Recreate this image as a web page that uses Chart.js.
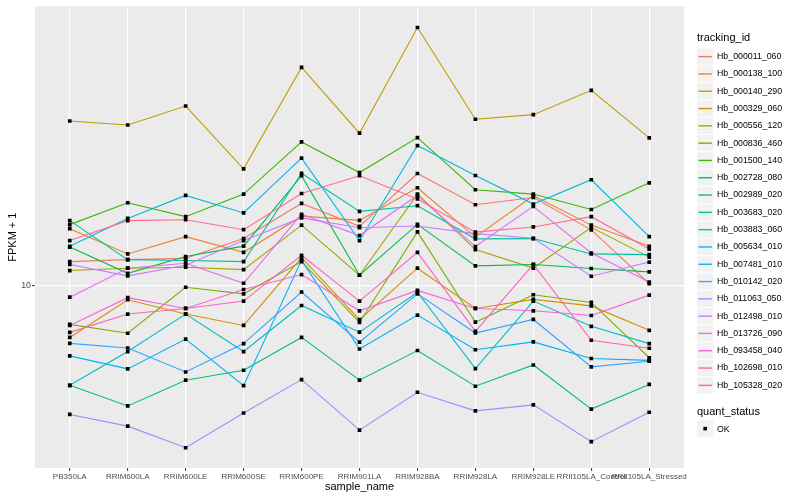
<!DOCTYPE html>
<html>
<head>
<meta charset="utf-8">
<script src="https://cdn.jsdelivr.net/npm/chart.js@4.4.1/dist/chart.umd.min.js"></script>
<style>
  html, body { margin: 0; padding: 0; background: #ffffff; }
  #wrap { width: 800px; height: 500px; }
</style>
</head>
<body>
<div id="wrap"><canvas id="chart" width="800" height="500"></canvas></div>
<script>
// Samples on the x axis
const sampleNames = ['PB350LA', 'RRIM600LA', 'RRIM600LE', 'RRIM600SE', 'RRIM600PE', 'RRIM901LA',
  'RRIM928BA', 'RRIM928LA', 'RRIM928LE', 'RRII105LA_Control', 'RRII105LA_Stressed'];

const trackingIds = ['Hb_000011_060', 'Hb_000138_100', 'Hb_000140_290', 'Hb_000329_060', 'Hb_000556_120',
  'Hb_000836_460', 'Hb_001500_140', 'Hb_002728_080', 'Hb_002989_020', 'Hb_003683_020',
  'Hb_003883_060', 'Hb_005634_010', 'Hb_007481_010', 'Hb_010142_020', 'Hb_011063_050',
  'Hb_012498_010', 'Hb_013726_090', 'Hb_093458_040', 'Hb_102698_010', 'Hb_105328_020'];

// FPKM + 1 per sample
const hb000011_060 = [11.48, 11.61, 11.70, 13.11, 16.06, 14.07, 19.09, 15.94, 16.62, 13.79, 10.10];
const hb000138_100 = [13.88, 12.00, 13.26, 12.11, 14.92, 14.56, 17.58, 13.22, 16.79, 14.17, 12.54];
const hb000140_290 = [7.41, 9.21, 8.48, 7.94, 11.75, 8.21, 11.05, 8.76, 9.23, 8.89, 7.72];
const hb000329_060 = [25.85, 25.26, 28.18, 19.61, 35.22, 24.09, 44.34, 26.11, 26.81, 30.85, 23.44];
const hb000556_120 = [10.90, 11.05, 11.11, 10.96, 14.17, 10.61, 16.95, 12.30, 11.06, 13.99, 11.78];
const hb000836_460 = [7.99, 7.59, 9.90, 9.53, 11.48, 8.08, 13.63, 8.09, 9.48, 9.07, 6.59];
const hb001500_140 = [14.21, 16.12, 14.88, 16.95, 22.91, 19.20, 23.48, 17.38, 16.95, 15.51, 18.09];
const hb002728_080 = [12.48, 10.73, 11.82, 12.55, 18.84, 10.61, 14.23, 11.20, 11.29, 11.03, 10.82];
const hb002989_020 = [5.62, 4.99, 5.79, 6.13, 7.41, 5.79, 6.87, 5.59, 6.32, 4.90, 5.65];
const hb003683_020 = [14.54, 11.61, 11.55, 11.48, 19.11, 15.34, 15.85, 13.09, 13.11, 12.00, 11.95];
const hb003883_060 = [5.62, 6.83, 8.48, 6.83, 8.91, 7.64, 9.62, 6.19, 9.14, 7.90, 7.15];
const hb005634_010 = [12.54, 14.73, 16.82, 15.20, 20.86, 12.96, 22.43, 18.87, 16.00, 18.41, 13.26];
const hb007481_010 = [6.66, 6.18, 7.34, 5.61, 11.58, 6.93, 8.43, 6.90, 7.22, 6.56, 6.49];
const hb010142_020 = [7.16, 6.97, 6.07, 7.15, 9.63, 7.21, 9.53, 7.60, 8.22, 6.25, 6.46];
const hb011063_050 = [4.75, 4.44, 3.92, 4.79, 5.81, 4.34, 5.40, 4.85, 5.02, 4.06, 4.81];
const hb012498_010 = [11.29, 10.57, 11.24, 12.96, 14.77, 13.96, 14.10, 13.49, 13.13, 10.55, 11.45];
const hb013726_090 = [9.35, 11.05, 11.37, 10.13, 15.09, 13.34, 16.84, 12.52, 15.79, 12.06, 10.20];
const hb093458_040 = [7.94, 9.32, 8.76, 9.77, 10.65, 8.64, 9.72, 8.76, 8.64, 8.41, 9.46];
const hb102698_010 = [7.63, 8.48, 8.76, 9.14, 11.91, 9.14, 12.11, 7.67, 11.30, 7.29, 6.96];
const hb105328_020 = [12.96, 14.54, 14.62, 13.80, 17.01, 18.84, 16.48, 13.61, 14.02, 14.88, 12.34];

const seriesValues = [hb000011_060, hb000138_100, hb000140_290, hb000329_060, hb000556_120,
  hb000836_460, hb001500_140, hb002728_080, hb002989_020, hb003683_020,
  hb003883_060, hb005634_010, hb007481_010, hb010142_020, hb011063_050,
  hb012498_010, hb013726_090, hb093458_040, hb102698_010, hb105328_020];

const yTicks = [10];

// ggplot default hue palette, 20 levels
const seriesColors = ['#F8766D', '#EA8331', '#D89000', '#C09B00', '#A3A500', '#7CAE00', '#39B600',
  '#00BB4E', '#00BF7D', '#00C1A3', '#00BFC4', '#00BAE0', '#00B0F6', '#35A2FF', '#9590FF',
  '#C77CFF', '#E76BF3', '#FA62DB', '#FF62BC', '#FF6C91'];

const FONT = '"Liberation Sans", Arial, sans-serif';

// grey panel behind the plot
const panelBackground = {
  id: 'panelBackground',
  beforeDraw(chart) {
    const { ctx, chartArea: a } = chart;
    ctx.save();
    ctx.fillStyle = '#ffffff';
    ctx.fillRect(0, 0, chart.width, chart.height);
    ctx.fillStyle = '#EBEBEB';
    ctx.fillRect(a.left, a.top, a.right - a.left, a.bottom - a.top);
    ctx.restore();
  }
};

// ggplot-style legend on the right
const ggLegend = {
  id: 'ggLegend',
  afterDraw(chart) {
    const ctx = chart.ctx;
    const x0 = chart.chartArea.right + 13;
    const key = 17.3;
    ctx.save();
    ctx.textBaseline = 'middle';
    ctx.textAlign = 'left';
    ctx.fillStyle = '#000000';
    ctx.font = '11px ' + FONT;
    ctx.fillText('tracking_id', x0, 38);

    let top = 48;
    chart.data.datasets.forEach(ds => {
      if (ds.label === 'OK') return;
      ctx.fillStyle = '#F2F2F2';
      ctx.fillRect(x0, top + 0.5, key - 1, key - 1);
      ctx.strokeStyle = ds.borderColor;
      ctx.lineWidth = 1.4;
      ctx.beginPath();
      ctx.moveTo(x0 + 1.5, top + key / 2);
      ctx.lineTo(x0 + key - 2.5, top + key / 2);
      ctx.stroke();
      ctx.fillStyle = '#000000';
      ctx.font = '8.8px ' + FONT;
      ctx.fillText(ds.label, x0 + 20, top + key / 2);
      top += key;
    });

    ctx.font = '11px ' + FONT;
    ctx.fillText('quant_status', x0, 412);
    const ky = 420.5;
    ctx.fillStyle = '#F2F2F2';
    ctx.fillRect(x0, ky, key - 1, key - 1);
    ctx.fillStyle = '#000000';
    ctx.fillRect(x0 + key / 2 - 2.3, ky + key / 2 - 2.3, 3.6, 3.6);
    ctx.font = '8.8px ' + FONT;
    ctx.fillText('OK', x0 + 20, ky + key / 2);
    ctx.restore();
  }
};

const lineDatasets = trackingIds.map((id, i) => ({
  label: id,
  data: seriesValues[i].map((v, j) => ({ x: j, y: v })),
  borderColor: seriesColors[i],
  backgroundColor: seriesColors[i],
  borderWidth: 1.1,
  pointRadius: 0,
  fill: false,
  tension: 0,
  order: trackingIds.length - i
}));

const pointDataset = {
  label: 'OK',
  data: seriesValues.flatMap(vals => vals.map((v, j) => ({ x: j, y: v }))),
  showLine: false,
  pointStyle: 'rect',
  pointRadius: 2.6,
  pointBackgroundColor: '#000000',
  pointBorderColor: '#000000',
  pointBorderWidth: 0,
  order: 0
};

new Chart(document.getElementById('chart'), {
  type: 'line',
  data: { datasets: [pointDataset, ...lineDatasets] },
  options: {
    responsive: false,
    animation: false,
    devicePixelRatio: 1,
    layout: { padding: { top: 5, right: 116, bottom: 0, left: 0 } },
    plugins: {
      legend: { display: false },
      tooltip: { enabled: false }
    },
    scales: {
      x: {
        type: 'linear',
        min: -0.6,
        max: sampleNames.length - 1 + 0.6,
        afterBuildTicks: scale => { scale.ticks = sampleNames.map((_, i) => ({ value: i })); },
        afterFit: scale => { scale.height = 32; },
        border: { display: false },
        grid: { color: '#ffffff', lineWidth: 1.2, tickLength: 3, tickColor: '#333333', tickWidth: 1 },
        ticks: {
          autoSkip: false,
          maxRotation: 0,
          minRotation: 0,
          padding: 1,
          color: '#4D4D4D',
          font: { family: FONT, size: 8 },
          callback: value => sampleNames[value]
        },
        title: {
          display: true,
          text: 'sample_name',
          color: '#000000',
          font: { family: FONT, size: 11 },
          padding: { top: 0, bottom: 6 }
        }
      },
      y: {
        type: 'logarithmic',
        min: 3.487,
        max: 50.12,
        afterBuildTicks: scale => { scale.ticks = yTicks.map(v => ({ value: v })); },
        afterFit: scale => { scale.width = 35; },
        border: { display: false },
        grid: { color: '#ffffff', lineWidth: 1.2, tickLength: 3, tickColor: '#333333', tickWidth: 1 },
        ticks: {
          padding: 1,
          color: '#4D4D4D',
          font: { family: FONT, size: 8.8 },
          callback: value => String(value)
        },
        title: {
          display: true,
          text: 'FPKM + 1',
          color: '#000000',
          font: { family: FONT, size: 11 },
          padding: { top: 6, bottom: 0 }
        }
      }
    }
  },
  plugins: [panelBackground, ggLegend]
});
</script>
</body>
</html>
